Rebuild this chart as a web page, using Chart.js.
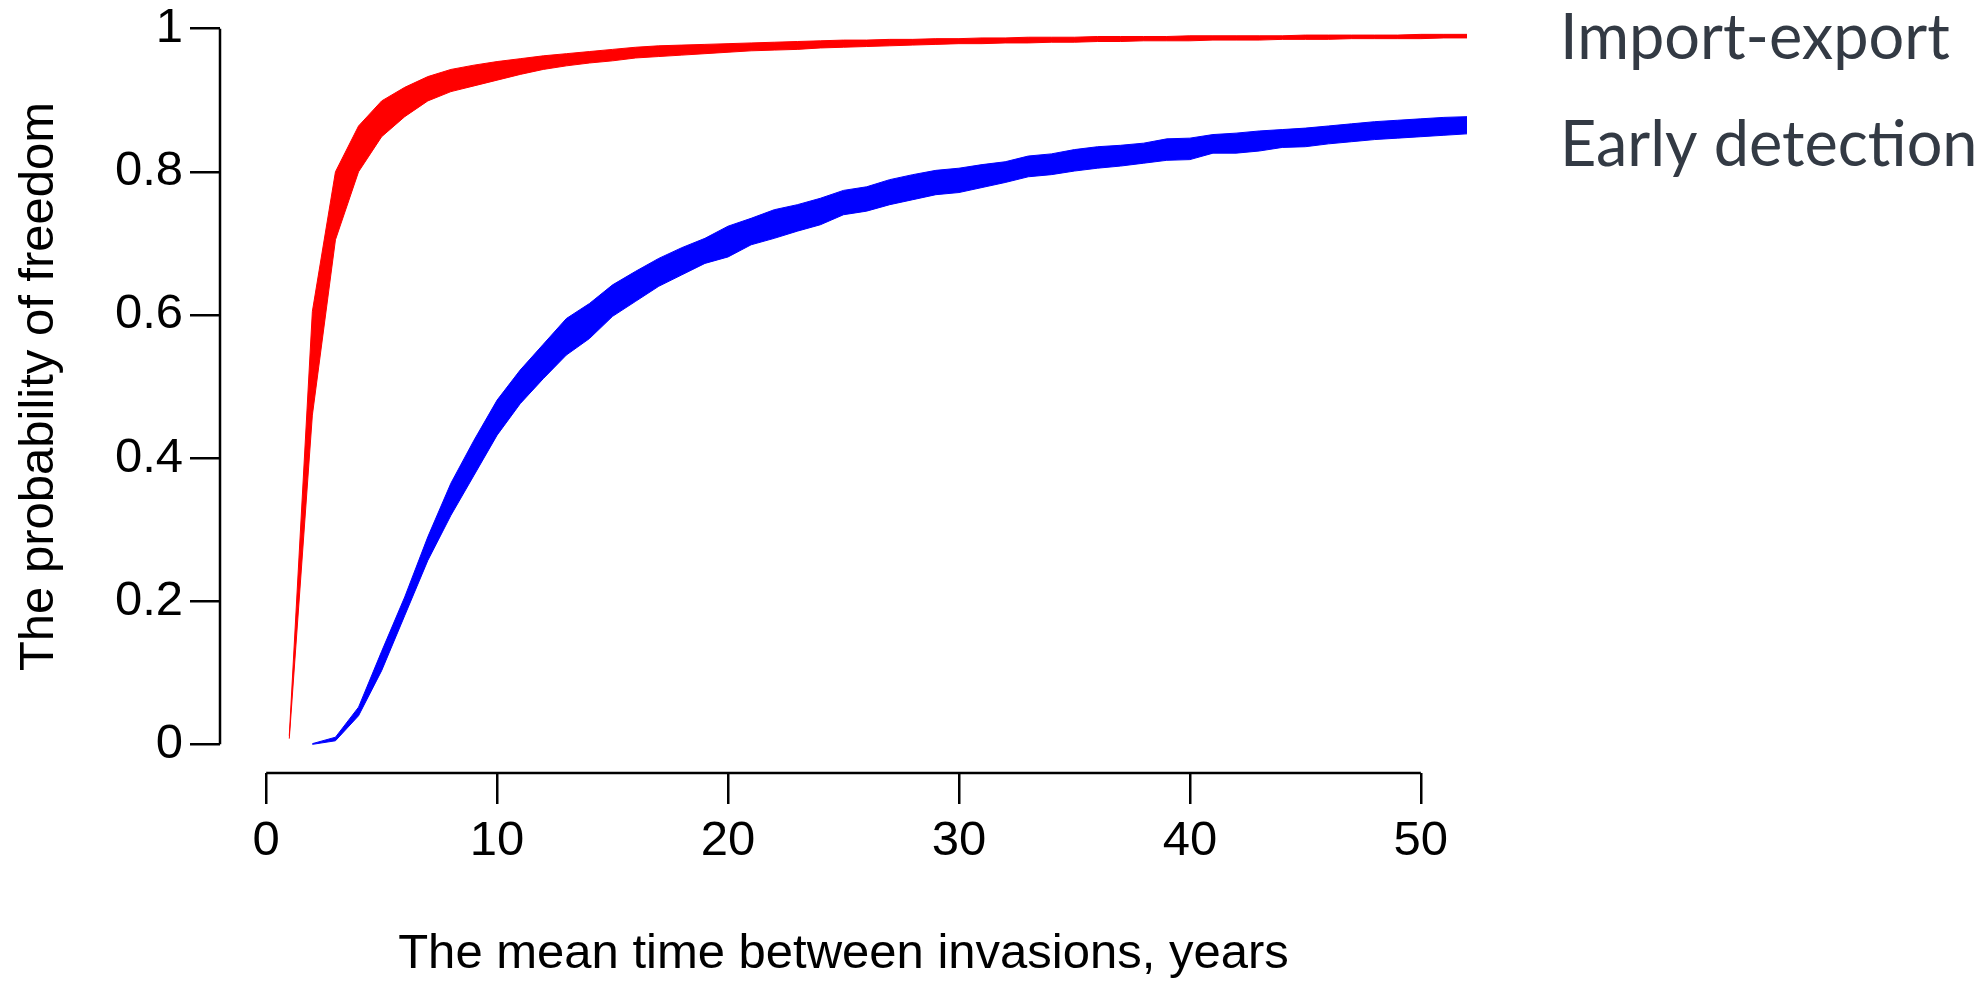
<!DOCTYPE html>
<html lang="en">
<head>
    <meta charset="UTF-8">
    <title>Probability of freedom</title>
    <script src="https://cdn.jsdelivr.net/npm/chart.js"></script>
    <style>
        html, body { margin: 0; padding: 0; background: #fff; }
        canvas { display: block; }
    </style>
</head>
<body>
    <canvas id="freedomChart" width="1988" height="984"></canvas>
    <script>
        // Years for each series (x values)
        const redYears = [1, 2, 3, 4, 5, 6, 7, 8, 9, 10, 11, 12, 13, 14, 15, 16, 17, 18, 19, 20,
            21, 22, 23, 24, 25, 26, 27, 28, 29, 30, 31, 32, 33, 34, 35, 36, 37, 38, 39, 40,
            41, 42, 43, 44, 45, 46, 47, 48, 49, 50, 51, 52];
        const blueYears = [2, 3, 4, 5, 6, 7, 8, 9, 10, 11, 12, 13, 14, 15, 16, 17, 18, 19, 20,
            21, 22, 23, 24, 25, 26, 27, 28, 29, 30, 31, 32, 33, 34, 35, 36, 37, 38, 39, 40,
            41, 42, 43, 44, 45, 46, 47, 48, 49, 50, 51, 52];

        // Import-export band (upper / lower)
        const importUpper = [
            0.012, 0.605, 0.800, 0.864, 0.899, 0.918, 0.933, 0.943, 0.949, 0.954,
            0.958, 0.962, 0.965, 0.968, 0.971, 0.974, 0.976, 0.977, 0.978, 0.979,
            0.980, 0.981, 0.982, 0.983, 0.984, 0.984, 0.985, 0.985, 0.986, 0.986,
            0.987, 0.987, 0.988, 0.988, 0.988, 0.989, 0.989, 0.989, 0.989, 0.990,
            0.990, 0.990, 0.990, 0.990, 0.991, 0.991, 0.991, 0.991, 0.991, 0.992,
            0.992, 0.992];
        const importLower = [
            0.008, 0.460, 0.705, 0.800, 0.849, 0.877, 0.899, 0.912, 0.920, 0.928,
            0.936, 0.943, 0.948, 0.952, 0.955, 0.959, 0.961, 0.963, 0.965, 0.967,
            0.969, 0.970, 0.971, 0.973, 0.974, 0.975, 0.976, 0.977, 0.978, 0.979,
            0.979, 0.980, 0.980, 0.981, 0.981, 0.982, 0.982, 0.983, 0.983, 0.983,
            0.984, 0.984, 0.984, 0.985, 0.985, 0.985, 0.986, 0.986, 0.986, 0.986,
            0.987, 0.987];

        // Early detection band (upper / lower)
        const earlyUpper = [
            0.001, 0.010, 0.052, 0.130, 0.206, 0.290, 0.365, 0.425, 0.481, 0.523,
            0.559, 0.595, 0.616, 0.642, 0.661, 0.679, 0.694, 0.707, 0.724, 0.735,
            0.747, 0.754, 0.763, 0.774, 0.779, 0.789, 0.796, 0.802, 0.805, 0.810,
            0.814, 0.822, 0.825, 0.831, 0.835, 0.837, 0.840, 0.846, 0.847, 0.852,
            0.854, 0.857, 0.859, 0.861, 0.864, 0.867, 0.870, 0.872, 0.874, 0.876,
            0.877];
        const earlyLower = [
            0.000, 0.005, 0.040, 0.103, 0.180, 0.257, 0.320, 0.376, 0.432, 0.476,
            0.511, 0.544, 0.567, 0.598, 0.619, 0.640, 0.656, 0.672, 0.681, 0.698,
            0.707, 0.717, 0.726, 0.740, 0.745, 0.754, 0.761, 0.768, 0.771, 0.778,
            0.785, 0.793, 0.796, 0.801, 0.805, 0.808, 0.812, 0.816, 0.817, 0.826,
            0.826, 0.829, 0.834, 0.835, 0.839, 0.842, 0.845, 0.847, 0.849, 0.851,
            0.853];

        const seriesNames = ['Import-export', 'Early detection'];
        const xTicks = [0, 10, 20, 30, 40, 50];
        const xTickLabels = ['0', '10', '20', '30', '40', '50'];
        const yTicks = [0, 0.2, 0.4, 0.6, 0.8, 1];
        const yTickLabels = ['0', '0.2', '0.4', '0.6', '0.8', '1'];

        const toPoints = (xs, ys) => xs.map((x, i) => ({ x: x, y: ys[i] }));
        const axisFont = { family: '"Liberation Sans", Arial, sans-serif', size: 49 };

        // R-style axis lines that only span the tick range
        const axisLines = {
            id: 'axisLines',
            afterDraw(chart) {
                const ctx = chart.ctx;
                const xs = chart.scales.x, ys = chart.scales.y;
                ctx.save();
                ctx.strokeStyle = '#000';
                ctx.lineWidth = 2.5;
                ctx.beginPath();
                ctx.moveTo(chart.chartArea.left, ys.getPixelForValue(yTicks[0]));
                ctx.lineTo(chart.chartArea.left, ys.getPixelForValue(yTicks[yTicks.length - 1]));
                ctx.moveTo(xs.getPixelForValue(xTicks[0]), chart.chartArea.bottom);
                ctx.lineTo(xs.getPixelForValue(xTicks[xTicks.length - 1]), chart.chartArea.bottom);
                ctx.stroke();
                ctx.restore();
            }
        };

        // Series names placed at the right, outside the plot
        const sideLabels = {
            id: 'sideLabels',
            afterDraw(chart) {
                const ctx = chart.ctx;
                ctx.save();
                ctx.fillStyle = '#333a44';
                ctx.font = '63px Lato, "Open Sans", sans-serif';
                ctx.textAlign = 'left';
                ctx.textBaseline = 'alphabetic';
                ctx.fillText(seriesNames[0], 1560, 59);
                ctx.fillText(seriesNames[1], 1560, 166);
                ctx.restore();
            }
        };

        new Chart(document.getElementById('freedomChart'), {
            type: 'line',
            data: {
                datasets: [
                    {
                        label: seriesNames[0] + ' upper',
                        data: toPoints(redYears, importUpper),
                        borderColor: '#ff0000',
                        backgroundColor: '#ff0000',
                        borderWidth: 1,
                        fill: '+1'
                    },
                    {
                        label: seriesNames[0] + ' lower',
                        data: toPoints(redYears, importLower),
                        borderColor: '#ff0000',
                        borderWidth: 1,
                        fill: false
                    },
                    {
                        label: seriesNames[1] + ' upper',
                        data: toPoints(blueYears, earlyUpper),
                        borderColor: '#0000ff',
                        backgroundColor: '#0000ff',
                        borderWidth: 1,
                        fill: '+1'
                    },
                    {
                        label: seriesNames[1] + ' lower',
                        data: toPoints(blueYears, earlyLower),
                        borderColor: '#0000ff',
                        borderWidth: 1,
                        fill: false
                    }
                ]
            },
            options: {
                responsive: false,
                animation: false,
                devicePixelRatio: 1,
                layout: { padding: { left: 0, right: 521, top: 0, bottom: 0 } },
                elements: {
                    point: { radius: 0 },
                    line: { tension: 0 }
                },
                scales: {
                    x: {
                        type: 'linear',
                        min: -2,
                        max: 52,
                        afterBuildTicks: s => { s.ticks = xTicks.map(v => ({ value: v })); },
                        afterFit: s => { s.height = 211; s.paddingLeft = 0; s.paddingRight = 0; },
                        border: { display: false },
                        grid: {
                            drawOnChartArea: false,
                            tickLength: 31,
                            color: '#000',
                            lineWidth: 2.5
                        },
                        ticks: {
                            autoSkip: false,
                            maxRotation: 0,
                            padding: 8,
                            color: '#000',
                            font: axisFont,
                            callback: (value, index) => xTickLabels[index]
                        },
                        title: {
                            display: true,
                            text: 'The mean time between invasions, years',
                            color: '#000',
                            font: axisFont,
                            padding: { top: 0, bottom: 0 }
                        }
                    },
                    y: {
                        type: 'linear',
                        min: -0.04,
                        max: 1.04,
                        afterBuildTicks: s => { s.ticks = yTicks.map(v => ({ value: v })); },
                        afterFit: s => { s.width = 220; s.paddingTop = 0; s.paddingBottom = 0; },
                        border: { display: false },
                        grid: {
                            drawOnChartArea: false,
                            tickLength: 30,
                            color: '#000',
                            lineWidth: 2.5
                        },
                        ticks: {
                            autoSkip: false,
                            padding: 7,
                            color: '#000',
                            font: axisFont,
                            callback: (value, index) => yTickLabels[index]
                        },
                        title: {
                            display: true,
                            text: 'The probability of freedom',
                            color: '#000',
                            font: axisFont,
                            padding: { top: 10, bottom: 0 }
                        }
                    }
                },
                plugins: {
                    legend: { display: false },
                    tooltip: { enabled: false }
                }
            },
            plugins: [axisLines, sideLabels]
        });
    </script>
</body>
</html>
